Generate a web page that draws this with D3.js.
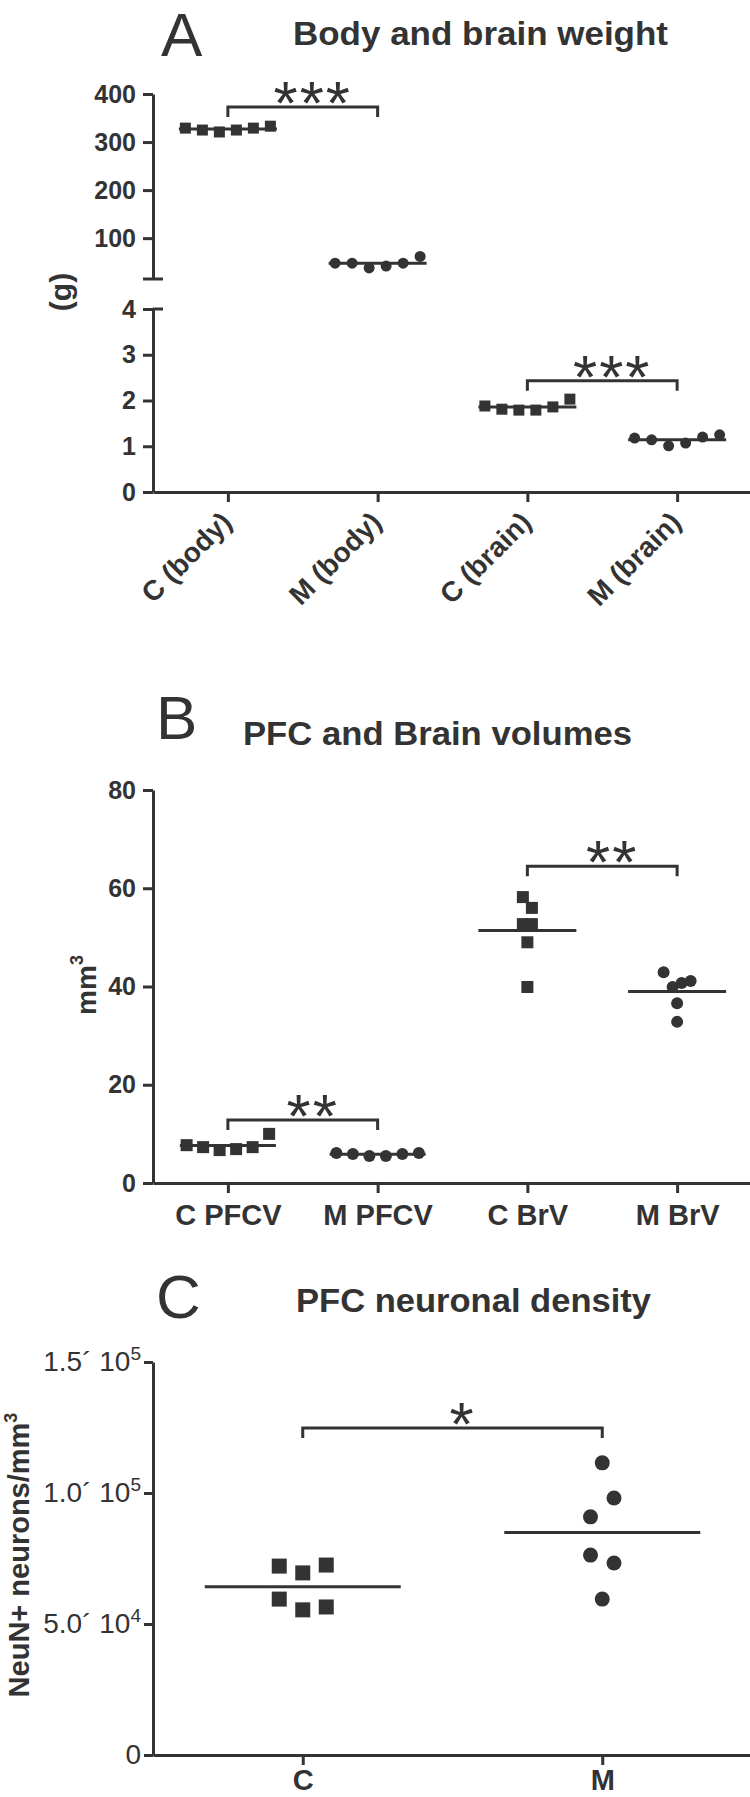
<!DOCTYPE html>
<html>
<head>
<meta charset="utf-8">
<script src="https://cdn.jsdelivr.net/npm/d3@7"></script>
<style>
body { margin: 0; background: #fff; }
svg { display: block; }
</style>
</head>
<body>
<div id="fig"></div>
<script>
// ---- data ----
// A: body (g) and brain (g) weight
const weightGroups = ["C (body)", "M (body)", "C (brain)", "M (brain)"]
const cBody = [329, 325, 321, 325, 329, 333]
const mBody = [48, 48, 38, 42, 48, 62]
const cBrain = [1.88, 1.81, 1.79, 1.79, 1.86, 2.03]
const mBrain = [1.18, 1.14, 1.01, 1.07, 1.20, 1.25]
const bodyTicks = [100, 200, 300, 400]
const brainTicks = [0, 1, 2, 3, 4]

// B: PFC and brain volumes (mm3)
const volumeGroups = ["C PFCV", "M PFCV", "C BrV", "M BrV"]
const cPFCV = [7.7, 7.3, 6.7, 6.9, 7.3, 10.0]
const mPFCV = [6.1, 5.9, 5.5, 5.5, 5.9, 6.1]
const cBrV = [58.2, 56.0, 52.7, 52.7, 49.0, 39.9]
const mBrV = [42.9, 39.9, 40.7, 41.1, 36.6, 32.8]
const volumeTicks = [0, 20, 40, 60, 80]

// C: PFC neuronal density (NeuN+ neurons/mm3)
const densityGroups = ["C", "M"]
const cDensity = [72100, 69500, 72500, 59500, 55400, 56500]
const mDensity = [111500, 90900, 98100, 76300, 73300, 59500]
const densityTicks = [0, 50000, 100000, 150000]

// significance brackets
const weightTests = [
  { from: "C (body)", to: "M (body)", level: 373, label: "***", scale: "body" },
  { from: "C (brain)", to: "M (brain)", level: 2.43, label: "***", scale: "brain" }
]
const volumeTests = [
  { from: "C PFCV", to: "M PFCV", level: 12.8, label: "**" },
  { from: "C BrV", to: "M BrV", level: 64.5, label: "**" }
]
const densityTests = [
  { from: "C", to: "M", level: 124800, label: "*" }
]

// ---- drawing ----
const ink = "#333"
const font = "'Liberation Sans', Arial, Helvetica, sans-serif"
const axisX = 153

const svg = d3.select("#fig").append("svg")
  .attr("width", 750)
  .attr("height", 1797)
  .attr("font-family", font)

// scatter layout: points close in y share a row, rows are centred
function swarm(values, y, rowGap, spread) {
  const pts = values.map((v, i) => ({ v, i, py: y(v) }))
  const sorted = pts.slice().sort((a, b) => a.py - b.py)
  const rows = []
  sorted.forEach((p, k) => {
    if (k && p.py - sorted[k - 1].py < rowGap) rows[rows.length - 1].push(p)
    else rows.push([p])
  })
  rows.forEach(row => {
    row.sort((a, b) => a.i - b.i)
    row.forEach((p, j) => { p.dx = (j - (row.length - 1) / 2) * spread })
  })
  return pts
}

function drawGroup(x, y, cat, values, opt) {
  const cx = x(cat)
  const pts = swarm(values, y, opt.rowGap, opt.spread)
  const g = svg.append("g").attr("fill", ink)
  if (opt.shape === "square") {
    g.selectAll("rect").data(pts).join("rect")
      .attr("x", d => cx + d.dx - opt.size / 2)
      .attr("y", d => d.py - opt.size / 2)
      .attr("width", opt.size)
      .attr("height", opt.size)
  } else {
    g.selectAll("circle").data(pts).join("circle")
      .attr("cx", d => cx + d.dx)
      .attr("cy", d => d.py)
      .attr("r", opt.size / 2)
  }
  const m = y(d3.mean(values))
  g.append("line")
    .attr("x1", cx - opt.meanHalf).attr("x2", cx + opt.meanHalf)
    .attr("y1", m).attr("y2", m)
    .attr("stroke", ink).attr("stroke-width", 3)
}

function bracket(x, y, t) {
  const x1 = x(t.from), x2 = x(t.to), yy = y(t.level)
  svg.append("path")
    .attr("d", `M${x1},${yy + 10}V${yy}H${x2}V${yy + 10}`)
    .attr("fill", "none").attr("stroke", ink).attr("stroke-width", 3)
  svg.append("text")
    .attr("x", (x1 + x2) / 2 + 10)
    .attr("y", yy + 17)
    .attr("text-anchor", "middle")
    .attr("font-size", 62)
    .attr("letter-spacing", 2)
    .attr("fill", ink)
    .text(t.label)
}

function styleAxis(g, size, weight) {
  g.attr("font-family", font).attr("font-size", size).attr("font-weight", weight)
  g.select(".domain").attr("stroke", ink).attr("stroke-width", 3)
  g.selectAll(".tick line").attr("stroke", ink).attr("stroke-width", 3)
  g.selectAll(".tick text").attr("fill", ink)
}

function panelLetter(letter, x, y) {
  svg.append("text").attr("x", x).attr("y", y)
    .attr("font-size", 62).attr("fill", ink).text(letter)
}

function panelTitle(title, x, y, len) {
  svg.append("text").attr("x", x).attr("y", y)
    .attr("font-size", 33).attr("font-weight", "bold").attr("fill", ink)
    .attr("textLength", len).attr("lengthAdjust", "spacingAndGlyphs")
    .text(title)
}

// ===== PANEL A =====
panelLetter("A", 161, 56)
panelTitle("Body and brain weight", 293, 45, 375)

const xA = d3.scalePoint().domain(weightGroups).range([axisX, 752]).padding(0.5)
const yBody = d3.scaleLinear().domain([15, 400]).range([279, 94])
const yBrain = d3.scaleLinear().domain([0, 4]).range([492, 309])

svg.append("g")
  .attr("transform", `translate(${axisX},0)`)
  .call(d3.axisLeft(yBody).tickValues(bodyTicks).tickFormat(d3.format("d"))
    .tickSize(10).tickSizeOuter(0).tickPadding(7))
  .call(g => styleAxis(g, 25, "bold"))

svg.append("g")
  .attr("transform", `translate(${axisX},0)`)
  .call(d3.axisLeft(yBrain).tickValues(brainTicks).tickFormat(d3.format("d"))
    .tickSize(10).tickSizeOuter(0).tickPadding(7))
  .call(g => styleAxis(g, 25, "bold"))

// axis break caps
svg.append("line")
  .attr("x1", axisX - 10).attr("x2", axisX + 10)
  .attr("y1", yBody.range()[0]).attr("y2", yBody.range()[0])
  .attr("stroke", ink).attr("stroke-width", 3)
svg.append("line")
  .attr("x1", axisX).attr("x2", axisX + 10)
  .attr("y1", yBrain(4)).attr("y2", yBrain(4))
  .attr("stroke", ink).attr("stroke-width", 3)

svg.append("g")
  .attr("transform", `translate(0,${yBrain(0)})`)
  .call(d3.axisBottom(xA).tickSize(10).tickSizeOuter(0))
  .call(g => styleAxis(g, 28, "bold"))
  .call(g => g.selectAll(".tick text")
    .attr("text-anchor", "end")
    .attr("x", 0).attr("y", 0).attr("dy", 0)
    .attr("transform", "translate(5,32) rotate(-45)"))

svg.append("text")
  .attr("transform", "translate(71,292) rotate(-90)")
  .attr("text-anchor", "middle")
  .attr("font-size", 30).attr("font-weight", "bold").attr("fill", ink)
  .text("(g)")

const optA = { size: 11, spread: 17, rowGap: 13, meanHalf: 49 }
drawGroup(xA, yBody, "C (body)", cBody, { ...optA, shape: "square" })
drawGroup(xA, yBody, "M (body)", mBody, { ...optA, shape: "circle" })
drawGroup(xA, yBrain, "C (brain)", cBrain, { ...optA, shape: "square" })
drawGroup(xA, yBrain, "M (brain)", mBrain, { ...optA, shape: "circle" })
weightTests.forEach(t => bracket(xA, t.scale === "body" ? yBody : yBrain, t))

// ===== PANEL B =====
panelLetter("B", 156, 739)
panelTitle("PFC and Brain volumes", 243, 745, 389)

const xB = d3.scalePoint().domain(volumeGroups).range([axisX, 752]).padding(0.5)
const yB = d3.scaleLinear().domain([0, 80]).range([1183, 790])

svg.append("g")
  .attr("transform", `translate(${axisX},0)`)
  .call(d3.axisLeft(yB).tickValues(volumeTicks).tickSize(10).tickSizeOuter(0).tickPadding(7))
  .call(g => styleAxis(g, 25, "bold"))

svg.append("g")
  .attr("transform", `translate(0,${yB(0)})`)
  .call(d3.axisBottom(xB).tickSize(10).tickSizeOuter(0))
  .call(g => styleAxis(g, 29, "bold"))
  .call(g => g.selectAll(".tick text").attr("y", 42).attr("dy", 0))

const mmLabel = svg.append("text")
  .attr("transform", "translate(96,985) rotate(-90)")
  .attr("text-anchor", "middle")
  .attr("font-size", 28).attr("font-weight", "bold").attr("fill", ink)
mmLabel.append("tspan").text("mm")
mmLabel.append("tspan").attr("font-size", 18).attr("dy", -13).text("3")

const optPFC = { size: 12, spread: 16.5, rowGap: 13, meanHalf: 48 }
const optBrV = { size: 12, spread: 9, rowGap: 13, meanHalf: 49 }
drawGroup(xB, yB, "C PFCV", cPFCV, { ...optPFC, shape: "square" })
drawGroup(xB, yB, "M PFCV", mPFCV, { ...optPFC, shape: "circle" })
drawGroup(xB, yB, "C BrV", cBrV, { ...optBrV, shape: "square" })
drawGroup(xB, yB, "M BrV", mBrV, { ...optBrV, shape: "circle" })
volumeTests.forEach(t => bracket(xB, yB, t))

// ===== PANEL C =====
panelLetter("C", 156, 1318)
panelTitle("PFC neuronal density", 296, 1312, 355)

const xC = d3.scalePoint().domain(densityGroups).range([axisX, 752]).padding(0.5)
const yC = d3.scaleLinear().domain([0, 150000]).range([1755, 1362])

svg.append("g")
  .attr("transform", `translate(${axisX},0)`)
  .call(d3.axisLeft(yC).tickValues(densityTicks).tickSize(9).tickSizeOuter(0).tickPadding(3))
  .call(g => styleAxis(g, 28, "normal"))
  .call(g => g.selectAll(".tick text").each(function (d) {
    const t = d3.select(this).text("")
    if (d === 0) { t.text("0"); return }
    const e = Math.floor(Math.log10(d))
    t.append("tspan").text((d / 10 ** e).toFixed(1) + "\u00b4 10")
    t.append("tspan").attr("font-size", 19).attr("dy", -11).text(e)
  }))

svg.append("g")
  .attr("transform", `translate(0,${yC(0)})`)
  .call(d3.axisBottom(xC).tickSize(10).tickSizeOuter(0))
  .call(g => styleAxis(g, 29, "bold"))
  .call(g => g.selectAll(".tick text").attr("y", 35).attr("dy", 0))

const neuLabel = svg.append("text")
  .attr("transform", "translate(29,1555) rotate(-90)")
  .attr("text-anchor", "middle")
  .attr("font-size", 29).attr("font-weight", "bold").attr("fill", ink)
neuLabel.append("tspan").text("NeuN+ neurons/mm")
neuLabel.append("tspan").attr("font-size", 18).attr("dy", -12).text("3")

const optC = { size: 15, spread: 23.5, rowGap: 21, meanHalf: 98 }
drawGroup(xC, yC, "C", cDensity, { ...optC, shape: "square" })
drawGroup(xC, yC, "M", mDensity, { ...optC, shape: "circle" })
densityTests.forEach(t => bracket(xC, yC, t))
</script>
</body>
</html>
